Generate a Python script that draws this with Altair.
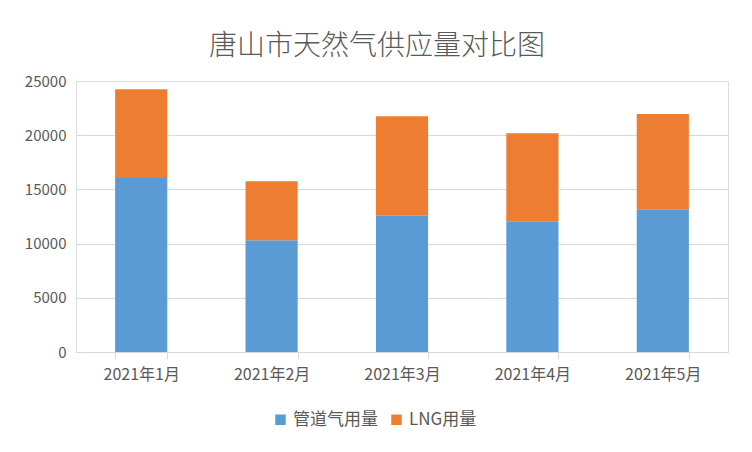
import altair as alt
import pandas as pd

months = ["2021年1月", "2021年2月", "2021年3月", "2021年4月", "2021年5月"]
pipeline = [16060, 10320, 12560, 12070, 13180]
lng = [8170, 5440, 9180, 8110, 8780]
series = ["管道气用量", "LNG用量"]
colors = ["#5B9BD5", "#ED7D31"]

rows = []
for i, m in enumerate(months):
    rows.append({"月份": m, "类型": series[0], "值": pipeline[i], "序": 0})
    rows.append({"月份": m, "类型": series[1], "值": lng[i], "序": 1})
df = pd.DataFrame(rows)

FONT = "Noto Sans CJK SC"
GRAY = "#595959"
LINE = "#d9d9d9"

chart = alt.Chart(df).mark_bar().encode(
    x=alt.X("月份:N", sort=months,
            scale=alt.Scale(paddingInner=0.6, paddingOuter=0.3),
            axis=alt.Axis(title=None, labelAngle=0, tickBand="extent", tickSize=7,
                          tickColor=LINE, domainColor=LINE, labelFontSize=16,
                          labelColor=GRAY, labelFont=FONT, labelPadding=7, grid=False)),
    y=alt.Y("sum(值):Q", scale=alt.Scale(domain=[0, 25000]),
            axis=alt.Axis(title=None, values=[0, 5000, 10000, 15000, 20000, 25000],
                          format="d", domain=False, ticks=False, gridColor=LINE,
                          labelFontSize=15, labelColor=GRAY, labelFont=FONT,
                          labelPadding=10)),
    color=alt.Color("类型:N", scale=alt.Scale(domain=series, range=colors),
                    legend=alt.Legend(title=None, orient="none", direction="horizontal",
                                      legendX=196, legendY=330, symbolType="square",
                                      symbolSize=110, symbolStrokeWidth=0,
                                      labelFontSize=17, labelColor=GRAY, labelFont=FONT,
                                      columnPadding=10)),
    order=alt.Order("序:Q"),
).properties(
    width=652, height=271,
    title=alt.TitleParams("唐山市天然气供应量对比图", fontSize=28, font=FONT,
                          fontWeight=300, color=GRAY, anchor="middle",
                          dx=-25, offset=13),
    autosize=alt.AutoSizeParams(type="none"),
    padding={"left": 68, "top": 73, "right": 16, "bottom": 100},
).configure_view(stroke=None).configure(background="white")

chart.save("out.html", embed_options={"renderer": "svg", "actions": False})
